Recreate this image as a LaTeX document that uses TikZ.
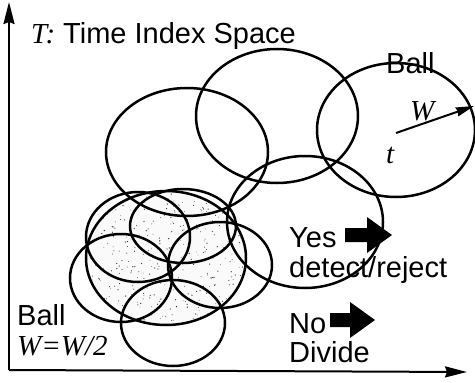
\documentclass[tikz,border=0pt]{standalone}
\usepackage{fontspec}
\setmainfont{Liberation Sans}
\newfontfamily\tms{Liberation Serif}
\usetikzlibrary{arrows.meta}
\tikzset{
  ball/.style={line width=2.5pt},
  lbl/.style={anchor=base west, inner sep=0pt, font=\fontsize{29}{32}\selectfont},
  mlbl/.style={anchor=base west, inner sep=0pt, font=\fontsize{29}{32}\selectfont\tms\itshape},
  blockarrow/.style={fill=black},
  axis/.style={line width=2pt, -{Stealth[length=22pt,width=11pt,inset=2pt]}},
  radius/.style={line width=2pt, -{Stealth[length=18pt,width=9pt,inset=1pt]}}
}
\begin{document}
\begin{tikzpicture}[x=1pt,y=-1pt]
\useasboundingbox (0,0) rectangle (475,383);
% shaded original ball
\begin{scope}
  \clip (166,258) ellipse [x radius=80pt, y radius=67pt];
  \fill[black!2] (166,258) ellipse [x radius=80pt, y radius=67pt];
  \pgfmathsetseed{11}
  \foreach \i in {1,...,380}{
    \pgfmathsetmacro\dotr{0.35+0.35*rnd}
    \fill[black!80] ({166+80*rand},{258+67*rand}) circle (\dotr pt);
  }
\end{scope}
% large balls
\draw[ball] (187,152) ellipse [x radius=81pt, y radius=64pt];
\draw[ball] (277,116) ellipse [x radius=81pt, y radius=67pt];
\draw[ball] (396,130) ellipse [x radius=79pt, y radius=67pt];
\draw[ball] (305,222) ellipse [x radius=78pt, y radius=66pt];
\draw[ball] (166,258) ellipse [x radius=80pt, y radius=67pt];
% small balls W/2
\draw[ball] (138,237) ellipse [x radius=52pt, y radius=45pt];
\draw[ball] (183,226) ellipse [x radius=53pt, y radius=37pt];
\draw[ball] (220,265) ellipse [x radius=52pt, y radius=43pt];
\draw[ball] (121,278) ellipse [x radius=51pt, y radius=44pt];
\draw[ball] (173,323) ellipse [x radius=52pt, y radius=43pt];
% axes
\coordinate (o) at (9,370);
\coordinate (ytop) at (9,2);
\coordinate (xend) at (467,372);
\draw[axis] (o) -- (ytop);
\draw[axis] (o) -- (xend);
% radius arrow
\coordinate (tc) at (396,133);
\coordinate (rim) at (474,106);
\draw[radius] (tc) -- (rim);
% texts
\node[mlbl] (tlab) at (31,43) {T:};
\node[lbl] (title) at (63,43) {Time Index Space};
\node[lbl] (ball1) at (386,73) {Ball};
\node[mlbl] (wlab) at (410,120) {W};
\node[mlbl] (tpt) at (386,163) {t};
\node[lbl] (yes) at (289,247) {Yes};
\node[lbl] (det) at (289,277) {detect/reject};
\node[lbl] (no) at (289,333) {No};
\node[lbl] (div) at (289,362) {Divide};
\node[lbl] (ball2) at (17,325) {Ball};
\node[mlbl] (half) at (17,355) {W=W/2};
% block arrows
\fill[blockarrow] (345,228) -- (367,228) -- (367,217) -- (392,235) -- (367,253) -- (367,242) -- (345,242) -- cycle;
\fill[blockarrow] (330,313) -- (350,313) -- (350,302) -- (375,320) -- (350,338) -- (350,327) -- (330,327) -- cycle;
\end{tikzpicture}
\end{document}
